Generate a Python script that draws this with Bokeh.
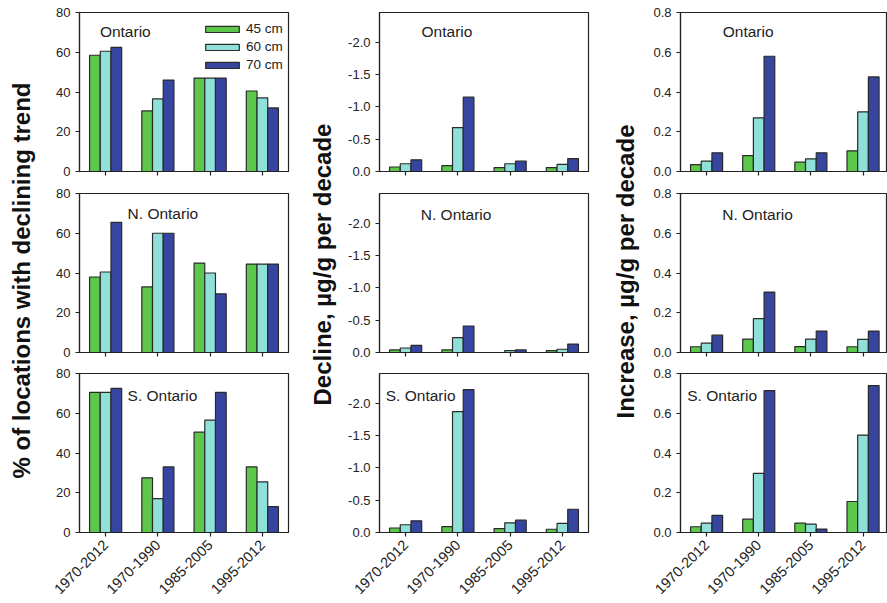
import numpy as np
from math import pi

from bokeh.plotting import figure
from bokeh.layouts import row, column
from bokeh.models import Range1d, FixedTicker, Label, Legend, LegendItem
from bokeh.embed import file_html
from bokeh.resources import INLINE

# ---------------------------------------------------------------- data
periods = ["1970-2012", "1970-1990", "1985-2005", "1995-2012"]
depths = ["45 cm", "60 cm", "70 cm"]
regions = ["Ontario", "N. Ontario", "S. Ontario"]

# % of locations with a declining trend
pct_ontario_45 = [58.5, 30.5, 47, 40.5]
pct_ontario_60 = [60.5, 36.5, 47, 37]
pct_ontario_70 = [62.5, 46, 47, 32]
pct_north_45 = [38, 33, 45, 44.5]
pct_north_60 = [40.5, 60, 40, 44.5]
pct_north_70 = [65.5, 60, 29.5, 44.5]
pct_south_45 = [70.5, 27.5, 50.5, 33]
pct_south_60 = [70.5, 17, 56.5, 25.5]
pct_south_70 = [72.5, 33, 70.5, 13]

# Decline, ug/g per decade (negative values)
dec_ontario_45 = [-0.07, -0.09, -0.06, -0.06]
dec_ontario_60 = [-0.12, -0.68, -0.12, -0.11]
dec_ontario_70 = [-0.18, -1.15, -0.16, -0.20]
dec_north_45 = [-0.04, -0.04, 0.0, -0.03]
dec_north_60 = [-0.07, -0.23, -0.03, -0.05]
dec_north_70 = [-0.11, -0.41, -0.04, -0.13]
dec_south_45 = [-0.07, -0.09, -0.06, -0.05]
dec_south_60 = [-0.12, -1.87, -0.15, -0.14]
dec_south_70 = [-0.18, -2.21, -0.19, -0.36]

# Increase, ug/g per decade
inc_ontario_45 = [0.035, 0.08, 0.047, 0.104]
inc_ontario_60 = [0.052, 0.27, 0.064, 0.30]
inc_ontario_70 = [0.094, 0.58, 0.094, 0.476]
inc_north_45 = [0.029, 0.067, 0.030, 0.029]
inc_north_60 = [0.047, 0.17, 0.067, 0.066]
inc_north_70 = [0.087, 0.304, 0.108, 0.108]
inc_south_45 = [0.029, 0.067, 0.047, 0.156]
inc_south_60 = [0.047, 0.297, 0.042, 0.49]
inc_south_70 = [0.086, 0.714, 0.017, 0.739]

pct_ticks = [0, 20, 40, 60, 80]
dec_ticks = [-2.0, -1.5, -1.0, -0.5, 0.0]
inc_ticks = [0.0, 0.2, 0.4, 0.6, 0.8]

# ---------------------------------------------------------------- style
FONT = "Liberation Sans"
INK = "#222222"
COLORS = ["#5dc74b", "#8fe0d8", "#3545a0"]
EDGE = "#2a2a2a"
BAR_W = 0.205
OFFSETS = [-0.205, 0.0, 0.205]

ROW_H = [182, 180, 241]
ROW_TOP = [12, 11, 11]
ROW_BOTTOM = [11, 10, 71]


def panel(series, y_rng, yticks, fmt, title, tpos, width, mb_left, mb_right,
          rownum, x_end=4.0, legend_xy=None):
    p = figure(width=width, height=ROW_H[rownum],
               x_range=Range1d(0, x_end), y_range=Range1d(*y_rng),
               toolbar_location=None, output_backend="svg",
               min_border_left=mb_left, min_border_right=mb_right,
               min_border_top=ROW_TOP[rownum],
               min_border_bottom=ROW_BOTTOM[rownum])
    p.xgrid.grid_line_color = None
    p.ygrid.grid_line_color = None
    p.outline_line_color = INK
    p.outline_line_width = 1.2
    p.background_fill_color = "white"
    p.border_fill_color = "white"

    xc = np.arange(len(periods)) + 0.5
    rends = []
    for vals, off, col in zip(series, OFFSETS, COLORS):
        r = p.vbar(x=xc + off, top=vals, bottom=0, width=BAR_W,
                   fill_color=col, line_color=EDGE, line_width=1.2)
        rends.append(r)

    # axes
    for ax in (p.xaxis[0], p.yaxis[0]):
        ax.axis_line_color = INK
        ax.axis_line_width = 1.2
        ax.major_tick_line_color = INK
        ax.major_tick_line_width = 1.2
        ax.major_tick_in = 0
        ax.major_tick_out = 4
        ax.minor_tick_line_color = None
        ax.major_label_text_font = FONT
        ax.major_label_text_font_size = "13px"
        ax.major_label_text_color = INK

    p.yaxis.ticker = FixedTicker(ticks=yticks)
    p.yaxis.major_label_standoff = 5
    p.yaxis.major_label_overrides = {t: fmt.format(t) for t in yticks}

    p.xaxis.ticker = FixedTicker(ticks=list(xc))
    if rownum == 2:
        p.xaxis.major_label_overrides = {float(x): s for x, s in zip(xc, periods)}
        p.xaxis.major_label_orientation = pi / 4
        p.xaxis.major_label_text_font_size = "14.5px"
        p.xaxis.major_label_standoff = 6
    else:
        p.xaxis.major_label_overrides = {float(x): "" for x in xc}
        p.xaxis.major_label_text_font_size = "0px"
        p.xaxis.major_label_standoff = 0

    y0, y1 = y_rng
    p.add_layout(Label(x=tpos[0], y=y0 + tpos[1] * (y1 - y0), text=title,
                       text_font=FONT, text_font_size="15.5px",
                       text_color=INK, text_align="left",
                       text_baseline="middle"))

    if legend_xy is not None:
        leg = Legend(items=[LegendItem(label=d, renderers=[r])
                            for d, r in zip(depths, rends)],
                     location=legend_xy, glyph_width=42, glyph_height=8,
                     label_height=14, spacing=3, padding=0, margin=0,
                     label_standoff=3, border_line_color=None,
                     background_fill_alpha=0,
                     label_text_font=FONT, label_text_font_size="13.5px",
                     label_text_color=INK)
        p.add_layout(leg)
    return p


def side_label(text, width, xc, yc):
    p = figure(width=width, height=sum(ROW_H), x_range=Range1d(0, 1),
               y_range=Range1d(0, 1), x_axis_type=None, y_axis_type=None,
               toolbar_location=None, output_backend="svg", min_border=0)
    p.xgrid.grid_line_color = None
    p.ygrid.grid_line_color = None
    p.outline_line_color = None
    p.add_layout(Label(x=xc / width, y=1 - yc / sum(ROW_H), text=text,
                       angle=pi / 2, text_align="center",
                       text_baseline="middle", text_font=FONT,
                       text_font_style="bold", text_font_size="24px",
                       text_color="#111111"))
    return p


# ---------------------------------------------------------------- panels
pct_series = [[pct_ontario_45, pct_ontario_60, pct_ontario_70],
              [pct_north_45, pct_north_60, pct_north_70],
              [pct_south_45, pct_south_60, pct_south_70]]
dec_series = [[dec_ontario_45, dec_ontario_60, dec_ontario_70],
              [dec_north_45, dec_north_60, dec_north_70],
              [dec_south_45, dec_south_60, dec_south_70]]
inc_series = [[inc_ontario_45, inc_ontario_60, inc_ontario_70],
              [inc_north_45, inc_north_60, inc_north_70],
              [inc_south_45, inc_south_60, inc_south_70]]

pct_title_pos = [(0.39, 0.880), (0.92, 0.874), (0.92, 0.859)]
dec_title_pos = [(0.805, 0.882), (0.79, 0.868), (0.12, 0.863)]
inc_title_pos = [(0.81, 0.882), (0.80, 0.868), (0.13, 0.863)]

col_pct = column(*[
    panel(pct_series[i], (0, 80), pct_ticks, "{:.0f}", regions[i],
          pct_title_pos[i], 260, 39, 12, i,
          legend_xy=(122, 99) if i == 0 else None)
    for i in range(3)])

col_dec = column(*[
    panel(dec_series[i], (0, -2.46), dec_ticks, "{:.1f}", regions[i],
          dec_title_pos[i], 262, 41, 12, i)
    for i in range(3)])

col_inc = column(*[
    panel(inc_series[i], (0, 0.8), inc_ticks, "{:.1f}", regions[i],
          inc_title_pos[i], 247, 40, 0, i, x_end=207 / 52.15)
    for i in range(3)])

lab_pct = side_label("% of locations with declining trend", 40, 21, 280)
lab_dec = side_label("Decline, \u00b5g/g per decade", 38, 22, 264)
lab_inc = side_label("Increase, \u00b5g/g per decade", 40, 25, 271)

layout = row(lab_pct, col_pct, lab_dec, col_dec, lab_inc, col_inc)

with open("out.html", "w") as f:
    f.write(file_html(layout, INLINE))
